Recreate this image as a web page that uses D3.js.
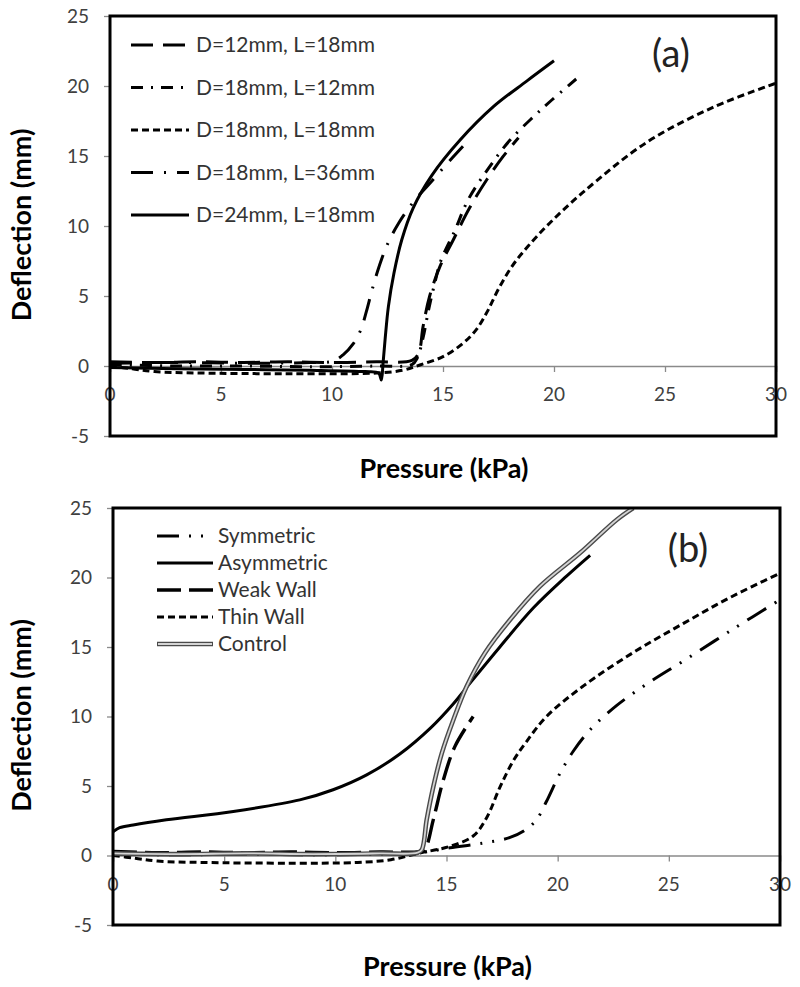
<!DOCTYPE html>
<html>
<head>
<meta charset="utf-8">
<script src="https://cdn.jsdelivr.net/npm/d3@7"></script>
<style>
  html, body { margin: 0; padding: 0; background: #fff; }
  svg { display: block; }
  text { font-family: Lato, "Open Sans", sans-serif; }
</style>
</head>
<body>
<svg id="chart" width="800" height="987"></svg>
<script>
// ---------- Data ----------
const xTicks = [0, 5, 10, 15, 20, 25, 30];
const yTicks = [-5, 0, 5, 10, 15, 20, 25];
const xTitle = "Pressure (kPa)";
const yTitle = "Deflection (mm)";

// Panel (a)
const aLabels = ["D=12mm, L=18mm", "D=18mm, L=12mm", "D=18mm, L=18mm", "D=18mm, L=36mm", "D=24mm, L=18mm"];
const aD12L18 = [[0,0.3],[2,0.25],[4,0.3],[6,0.25],[8,0.3],[10,0.25],[12,0.3],[13.6,0.4],[13.9,0.9],[14.1,2.8],[14.4,5.0],[14.86,7.1],[15.46,9],[16.2,11.3],[16.97,13.3],[17.7,14.95],[18.4,16.3]];
const aD18L12 = [[0,0.1],[3,0.0],[6,0.0],[9,-0.05],[12,0.0],[13.6,0.1],[13.85,0.6],[14.1,2.0],[14.35,4.0],[14.64,6.0],[14.9,7.5],[15.54,9.7],[16.14,11.9],[17.04,14.1],[18.0,16.1],[19.14,17.9],[19.9,19.0],[21.0,20.5]];
const aD18L18 = [[0,0],[1,-0.2],[2,-0.4],[4,-0.5],[8,-0.55],[12,-0.5],[13.2,-0.3],[13.96,0.07],[15,0.67],[15.9,1.62],[16.5,2.6],[17.0,3.9],[17.5,5.5],[18.1,7.1],[18.8,8.5],[19.8,10.2],[21.3,12.4],[24.2,16.0],[27.2,18.5],[30,20.2]];
const aD18L36 = [[0,0.2],[3,0.25],[6,0.2],[9,0.25],[10.05,0.35],[10.5,0.8],[10.96,1.6],[11.3,2.6],[11.55,3.9],[11.8,5.4],[12.1,7.0],[12.5,8.7],[13.0,10.2],[13.66,11.7],[14.41,13.05],[15.1,14.3],[15.9,15.7]];
const aD24L18 = [[0,-0.1],[3,-0.2],[6,-0.25],[9,-0.3],[11.5,-0.4],[12.1,-0.5],[12.22,-1.0],[12.3,0.2],[12.39,1.86],[12.54,4.24],[12.79,6.62],[13.14,9.0],[13.66,11.3],[14.49,13.6],[15.77,16.14],[17.27,18.52],[18.77,20.35],[20.0,21.8]];

// Panel (b)
const bLabels = ["Symmetric", "Asymmetric", "Weak Wall", "Thin Wall", "Control"];
const bSymmetric = [[0,0.1],[3,0.05],[6,0.1],[9,0.05],[12,0.1],[13.8,0.2],[15.16,0.55],[16.66,0.9],[17.86,1.3],[18.6,1.9],[19.06,2.6],[19.5,3.9],[20.1,5.9],[20.7,7.5],[21.46,9.05],[22.66,10.8],[24.16,12.5],[25.66,14.0],[27.9,16.3],[30,18.4]];
const bAsymmetric = [[0,1.7],[0.3,2.0],[0.91,2.2],[2.4,2.57],[5.41,3.17],[8.4,4.0],[9.9,4.73],[11.41,5.8],[12.9,7.3],[14.3,9.2],[15.3,10.9],[16.06,12.4],[17.4,15.0],[18.9,17.8],[20.4,20.1],[21.46,21.6]];
const bWeakWall = [[0,0.3],[2,0.2],[4,0.25],[6,0.2],[8,0.25],[10,0.2],[12,0.25],[13.8,0.3],[14.04,0.5],[14.41,2.6],[14.86,5.45],[15.38,7.85],[16.2,10.0]];
const bThinWall = [[0,0],[1,-0.2],[2,-0.4],[4,-0.5],[8,-0.55],[11,-0.5],[12.5,-0.3],[13.8,0.18],[15.16,0.66],[16.2,1.4],[16.8,2.7],[17.4,4.9],[18.0,6.8],[18.6,8.2],[19.5,10.0],[21.16,12.2],[23.4,14.6],[25.66,16.7],[27.8,18.6],[30,20.3]];
const bControl = [[0,0.15],[3,0.1],[6,0.15],[9,0.1],[12,0.15],[13.7,0.2],[13.89,0.42],[14.11,2.58],[14.41,4.97],[14.79,7.37],[15.31,9.77],[15.91,12.17],[16.73,14.57],[17.86,16.96],[19.2,19.36],[21.0,21.76],[22.66,24.16],[23.4,25.0]];

// ---------- Styles ----------
const styleA = [
  {dash: "22,10", w: 3},
  {dash: "12,8,2,8", w: 3},
  {dash: "7,4", w: 3},
  {dash: "22,11,2,11", w: 3},
  {dash: null, w: 3}
];
const styleB = [
  {dash: "22,10,2,10,2,10", w: 3},
  {dash: null, w: 3},
  {dash: "24,8", w: 3.4},
  {dash: "7,4", w: 3},
  {dash: null, w: 3, double: true}
];

const svg = d3.select("#chart");
svg.append("rect").attr("width", 800).attr("height", 987).attr("fill", "#fff");

function drawPanel(cfg) {
  const {id, left, right, top, bottom, series, styles, labels, legend, panelLabel} = cfg;
  const x = d3.scaleLinear().domain([0, 30]).range([left, right]);
  const y = d3.scaleLinear().domain([-5, 25]).range([bottom, top]);
  const g = svg.append("g");

  g.append("clipPath").attr("id", "clip" + id)
    .append("rect").attr("x", left).attr("y", top).attr("width", right - left).attr("height", bottom - top);

  // zero axis line with ticks (ticks go downward)
  const xAxis = d3.axisBottom(x).tickValues(xTicks).tickSize(6).tickFormat("");
  const xg = g.append("g").attr("transform", `translate(0,${y(0)})`).call(xAxis);
  xg.select(".domain").attr("stroke", "#8a8a8a").attr("stroke-width", 1.3);
  xg.selectAll(".tick line").attr("stroke", "#8a8a8a").attr("stroke-width", 1.3);

  // x tick labels
  g.selectAll(".xlab").data(xTicks).enter().append("text")
    .attr("x", d => x(d)).attr("y", y(0) + 35)
    .attr("text-anchor", "middle").attr("font-size", 19).attr("fill", "#404040")
    .text(d => d);

  // y axis ticks
  const yAxis = d3.axisLeft(y).tickValues(yTicks).tickSize(6).tickFormat("");
  const yg = g.append("g").attr("transform", `translate(${left},0)`).call(yAxis);
  yg.select(".domain").remove();
  yg.selectAll(".tick line").attr("stroke", "#8a8a8a").attr("stroke-width", 1.3);
  g.selectAll(".ylab").data(yTicks).enter().append("text")
    .attr("x", left - 21).attr("y", d => y(d))
    .attr("dy", "0.35em")
    .attr("text-anchor", "end").attr("font-size", 19).attr("fill", "#404040")
    .text(d => d);

  // series
  const line = d3.line().x(d => x(d[0])).y(d => y(d[1])).curve(d3.curveCatmullRom.alpha(0.5));
  const sg = g.append("g").attr("clip-path", `url(#clip${id})`);
  series.forEach((s, i) => {
    const st = styles[i];
    if (st.double) {
      sg.append("path").attr("d", line(s)).attr("fill", "none")
        .attr("stroke", "#4a4a4a").attr("stroke-width", 4.6);
      sg.append("path").attr("d", line(s)).attr("fill", "none")
        .attr("stroke", "#d4d4d4").attr("stroke-width", 1.8);
    } else {
      sg.append("path").attr("d", line(s)).attr("fill", "none")
        .attr("stroke", "#000").attr("stroke-width", st.w)
        .attr("stroke-dasharray", st.dash);
    }
  });

  // frame
  g.append("rect").attr("x", left).attr("y", top).attr("width", right - left).attr("height", bottom - top)
    .attr("fill", "none").attr("stroke", "#000").attr("stroke-width", 3);

  // legend
  labels.forEach((lab, i) => {
    const ly = legend.y0 + i * legend.dy;
    const st = styles[i];
    if (st.double) {
      g.append("line").attr("x1", legend.x1).attr("x2", legend.x2).attr("y1", ly).attr("y2", ly)
        .attr("stroke", "#4a4a4a").attr("stroke-width", 4.6);
      g.append("line").attr("x1", legend.x1 + 1).attr("x2", legend.x2 - 1).attr("y1", ly).attr("y2", ly)
        .attr("stroke", "#d4d4d4").attr("stroke-width", 1.8);
    } else {
      g.append("line").attr("x1", legend.x1).attr("x2", legend.x2).attr("y1", ly).attr("y2", ly)
        .attr("stroke", "#000").attr("stroke-width", st.w).attr("stroke-dasharray", st.dash);
    }
    g.append("text").attr("x", legend.tx).attr("y", ly).attr("dy", "0.35em")
      .attr("font-size", legend.fs).attr("fill", "#333").text(lab);
  });

  // panel label
  g.append("text").attr("x", panelLabel.x).attr("y", panelLabel.y)
    .attr("text-anchor", "middle").attr("font-size", 38).attr("fill", "#222")
    .text(panelLabel.text);

  // axis titles
  g.append("text").attr("x", (left + right) / 2 + 1).attr("y", cfg.xTitleY)
    .attr("text-anchor", "middle").attr("font-size", 27).attr("font-weight", "bold").attr("fill", "#000")
    .text(xTitle);
  g.append("text").attr("transform", `translate(${cfg.yTitleX},${(top + bottom) / 2 - 1}) rotate(-90)`)
    .attr("text-anchor", "middle").attr("font-size", 27).attr("font-weight", "bold").attr("fill", "#000")
    .text(yTitle);
}

drawPanel({
  id: "a", left: 110, right: 776, top: 16, bottom: 436,
  series: [aD12L18, aD18L12, aD18L18, aD18L36, aD24L18],
  styles: styleA, labels: aLabels,
  legend: {x1: 131, x2: 189, tx: 196, y0: 45, dy: 42.5, fs: 21},
  panelLabel: {x: 671, y: 67, text: "(a)"},
  xTitleY: 478, yTitleX: 31
});

drawPanel({
  id: "b", left: 113, right: 780, top: 508, bottom: 925,
  series: [bSymmetric, bAsymmetric, bWeakWall, bThinWall, bControl],
  styles: styleB, labels: bLabels,
  legend: {x1: 157, x2: 213, tx: 218, y0: 536, dy: 27, fs: 21},
  panelLabel: {x: 688, y: 562, text: "(b)"},
  xTitleY: 976, yTitleX: 31
});
</script>
</body>
</html>
